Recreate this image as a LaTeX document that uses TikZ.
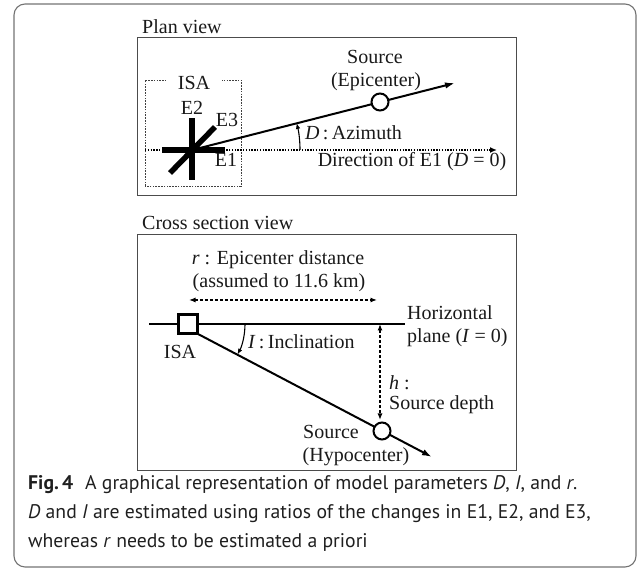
\documentclass[tikz,border=0pt]{standalone}
\usepackage{fontspec}
\setmainfont{Liberation Serif}
\newfontfamily\capfont{PT Sans}
\usetikzlibrary{arrows.meta}
\begin{document}
\begin{tikzpicture}[x=1pt,y=1pt,
  lbl/.style={font=\fontsize{20}{22}\selectfont, inner sep=0pt, text=black!90},
  capt/.style={font=\capfont\fontsize{19.7}{22}\selectfont, anchor=base west, inner sep=0pt, text=black!88},
  panel/.style={draw=black!70, line width=1pt},
  bar/.style={line width=5.5pt, line cap=butt},
  ray/.style={line width=2pt, -{Latex[length=10pt,width=6.5pt]}},
  dim/.style={line width=1.2pt, dash pattern=on 3pt off 2pt, {Latex[length=6.5pt,width=5pt]}-{Latex[length=6.5pt,width=5pt]}},
  ringnode/.style={circle, draw, line width=2pt, fill=white, minimum size=17pt, inner sep=0pt},
]
\useasboundingbox (0,0) rectangle (638,569);
% outer frame
\draw[black!55, line width=1.1pt, rounded corners=11pt] (14,2) rectangle (636,565);

% ---------- Plan view ----------
\node[lbl, anchor=base west] (plantitle) at (142,535) {Plan view};
\draw[panel] (137,373) rectangle (516,531);
% ISA dashed box
\draw[black!75, line width=0.6pt, dash pattern=on 1.6pt off 1.2pt] (145,383) rectangle (241,489);
\node[lbl, fill=white, inner xsep=12pt, inner ysep=2pt] (isa1) at (194,486) {ISA};
\coordinate (C) at (192,419);
\coordinate (dirstart) at (145,419);
\coordinate (dirtip) at (497,419);
\draw[line width=2pt, dash pattern=on 1.3pt off 1.5pt, -{Latex[length=7pt,width=6pt]}] (dirstart) -- (dirtip);
% sensor bars
\coordinate (e1a) at (162,419); \coordinate (e1b) at (225,419);
\coordinate (e2a) at (192,389); \coordinate (e2b) at (192,451);
\coordinate (e3a) at (170,396); \coordinate (e3b) at (215,442);
\draw[bar] (e1a) -- (e1b);
\draw[bar] (e2a) -- (e2b);
\draw[bar] (e3a) -- (e3b);
\node[lbl] (E2) at (192,461) {E2};
\node[lbl] (E3) at (227,449) {E3};
\node[lbl] (E1) at (226,409) {E1};
% source ray
\coordinate (epitip) at (455,486);
\draw[ray] (C) -- (epitip);
\node[ringnode] (epi) at (380,467) {};
\node[lbl] (src1) at (375,512) {Source};
\node[lbl] (epil) at (376,487) {(Epicenter)};
% azimuth arc
\coordinate (azs) at (300,419);
\draw[line width=1.1pt, -{Latex[length=6pt,width=4.5pt]}] (azs) arc[start angle=0, end angle=14.5, radius=108pt];
\node[lbl, anchor=west] (azl) at (305,436) {\textit{D}\,:\,Azimuth};
\node[lbl] (dirl) at (412,407) {Direction of E1 (\textit{D} = 0)};

% ---------- Cross section view ----------
\node[lbl, anchor=base west] (crosstitle) at (142,339) {Cross section view};
\draw[panel] (137,98) rectangle (516,334);
\coordinate (hl) at (149,245); \coordinate (hr) at (405,245);
\draw[line width=2pt] (hl) -- (hr);
\coordinate (inc0) at (198,235);
\coordinate (hypotip) at (432,112);
\draw[ray] (inc0) -- (hypotip);
\node[draw, line width=2.4pt, fill=white, minimum size=19pt, inner sep=0pt] (isasq) at (188,245) {};
\node[lbl] (isa2) at (180,217) {ISA};
\node[ringnode] (hypo) at (382,138) {};
% inclination arc
\coordinate (incs) at (245,245);
\draw[line width=1.1pt, -{Latex[length=6pt,width=4.5pt]}] (incs) arc[start angle=0, end angle=-27.7, radius=66pt];
\node[lbl, anchor=west] (incl) at (248,227) {\textit{I}\,:\,Inclination};
% r dimension
\coordinate (ra) at (189,269); \coordinate (rb) at (377,269);
\draw[dim] (ra) -- (rb);
\node[lbl] (rl1) at (278,309) {\textit{r} : Epicenter distance};
\node[lbl] (rl2) at (279,286) {(assumed to 11.6 km)};
% h dimension
\coordinate (ha) at (380,245); \coordinate (hb) at (380,149);
\draw[dim] (ha) -- (hb);
\node[lbl, anchor=west] (hl1) at (389,186) {\textit{h} :};
\node[lbl, anchor=west] (hl2) at (389,164) {Source depth};
\node[lbl, anchor=west] (hz1) at (407,256) {Horizontal};
\node[lbl, anchor=west] (hz2) at (407,231) {plane (\textit{I} = 0)};
\node[lbl] (src2) at (331,137) {Source};
\node[lbl] (hypol) at (356,112) {(Hypocenter)};

% ---------- caption ----------
\node[capt] (cap1) at (28,79) {\textbf{Fig.\,4}\hspace{0.6em}A graphical representation of model parameters \textit{D}, \textit{I}, and \textit{r}.};
\node[capt] (cap2) at (28,50) {\textit{D} and \textit{I} are estimated using ratios of the changes in E1, E2, and E3,};
\node[capt] (cap3) at (28,21) {whereas \textit{r} needs to be estimated a priori};
\end{tikzpicture}
\end{document}
